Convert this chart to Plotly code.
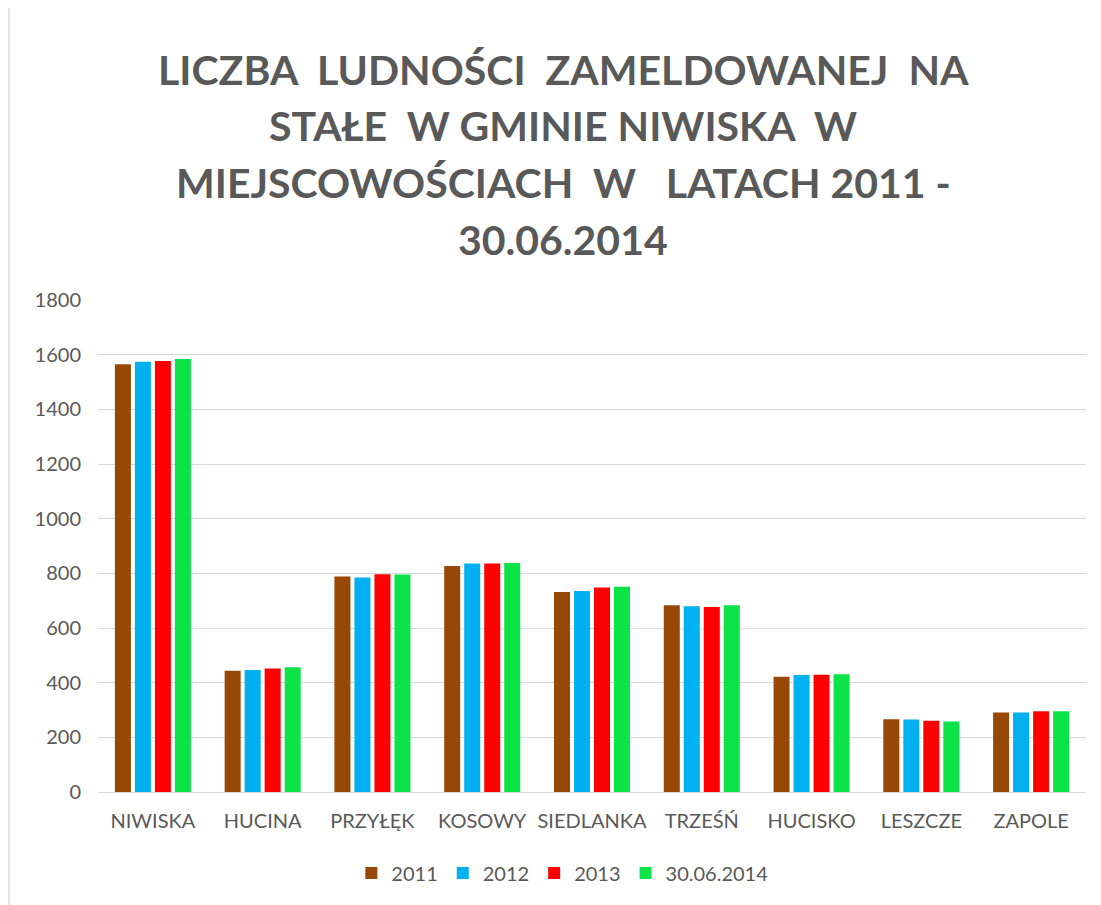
import plotly.graph_objects as go

categories = ["NIWISKA", "HUCINA", "PRZYŁĘK", "KOSOWY", "SIEDLANKA", "TRZEŚŃ", "HUCISKO", "LESZCZE", "ZAPOLE"]
series_names = ["2011", "2012", "2013", "30.06.2014"]
v2011 = [1565, 444, 788, 827, 732, 683, 422, 266, 291]
v2012 = [1574, 446, 785, 836, 735, 680, 428, 265, 291]
v2013 = [1577, 452, 797, 836, 748, 677, 429, 261, 295]
v2014 = [1584, 456, 796, 838, 751, 683, 431, 258, 295]
colors = ["#974706", "#00B0F0", "#FF0000", "#0BE346"]
y_ticks = [0, 200, 400, 600, 800, 1000, 1200, 1400, 1600, 1800]
title_lines = ["LICZBA\u00a0 LUDNOŚCI\u00a0 ZAMELDOWANEJ\u00a0 NA",
               "STAŁE\u00a0 W GMINIE NIWISKA\u00a0 W",
               "MIEJSCOWOŚCIACH\u00a0 W\u00a0\u00a0 LATACH 2011 -",
               "30.06.2014"]

W, H = 1101, 905
ML, MR, MT, MB = 90, 23, 292, 121
plot_w = W - ML - MR
plot_h = H - MT - MB

fig = go.Figure()
for name, vals, col in zip(series_names, [v2011, v2012, v2013, v2014], colors):
    fig.add_trace(go.Bar(name=name, x=categories, y=vals, marker=dict(color=col, line=dict(width=0))))

grey = "#595959"

fig.update_layout(
    width=W, height=H,
    margin=dict(l=ML, r=MR, t=MT, b=MB),
    paper_bgcolor="white", plot_bgcolor="white",
    barmode="group", bargap=0.271, bargroupgap=0.2,
    font=dict(family="Lato", color=grey, size=20),
    legend=dict(orientation="h", x=0.47, xanchor="center", y=-0.125, yanchor="top",
                font=dict(size=20, color=grey), itemwidth=30, traceorder="normal"),
    showlegend=True,
)

title_y_px = [62, 117, 174, 232]
for line, ypx in zip(title_lines, title_y_px):
    fig.add_annotation(text=line, xref="paper", yref="paper",
                       x=(555 - ML) / plot_w, y=(H - MB - ypx) / plot_h,
                       xanchor="center", yanchor="middle", showarrow=False,
                       font=dict(family="Lato", size=41, color=grey, weight="bold"))

fig.update_yaxes(range=[0, 1800], tickvals=y_ticks, showgrid=True, gridcolor="#d9d9d9", gridwidth=1,
                 zeroline=True, zerolinecolor="#d9d9d9", zerolinewidth=1, showline=False,
                 ticks="outside", ticklen=12, tickcolor="rgba(0,0,0,0)",
                 tickfont=dict(size=20, color=grey))
fig.update_xaxes(showgrid=False, showline=False, ticks="outside", ticklen=11, tickcolor="rgba(0,0,0,0)",
                 tickfont=dict(size=20, color=grey))

fig.add_shape(type="line", xref="paper", yref="paper",
              x0=(1 - ML) / plot_w, x1=(1 - ML) / plot_w,
              y0=-MB / plot_h, y1=(H - MB) / plot_h,
              line=dict(color="#d9d9d9", width=1.5))

fig.write_html("out.html")
